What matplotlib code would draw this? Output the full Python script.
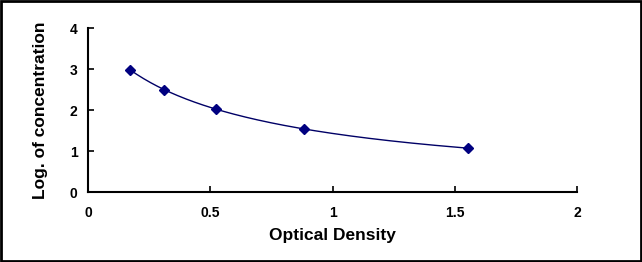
import numpy as np
import matplotlib.pyplot as plt

plt.rcParams['font.family'] = ['Liberation Sans', 'DejaVu Sans']
plt.rcParams['font.weight'] = 'bold'

# Standard curve points.
od = [0.172, 0.312, 0.522, 0.885, 1.553]
log_conc = [2.98, 2.50, 2.02, 1.54, 1.07]

x_ticks = [0, 0.5, 1, 1.5, 2]
x_labels = ['0', '0.5', '1', '1.5', '2']
y_ticks = [0, 1, 2, 3, 4]

fig = plt.figure(figsize=(6.42, 2.62), dpi=100)
ax = fig.add_axes([0.137, 0.267, 0.762, 0.626])

# Smooth trend line through the points (fit on log of OD).
coef = np.polyfit(np.log(od), log_conc, 3)
xs = np.linspace(min(od), max(od), 200)
ax.plot(xs, np.polyval(coef, np.log(xs)), color='#000066', lw=1)
ax.plot(od, log_conc, linestyle='none', marker='D', ms=5.5, color='#000080')

ax.set_xlim(0, 2)
ax.set_ylim(0, 4)
ax.set_xticks(x_ticks)
ax.set_xticklabels(x_labels, fontweight='bold')
ax.set_yticks(y_ticks)
ax.set_yticklabels([str(t) for t in y_ticks], fontweight='bold')
ax.tick_params(axis='x', direction='in', length=4, width=1.2, labelsize=10, pad=10)
ax.tick_params(axis='y', direction='in', length=4, width=1.2, labelsize=10, pad=7.5)
for s in ['top', 'right']:
    ax.spines[s].set_visible(False)
for s in ['left', 'bottom']:
    ax.spines[s].set_linewidth(1.5)

ax.set_xlabel('Optical Density', fontsize=12.5, fontweight='bold', labelpad=6)
ax.set_ylabel('Log. of concentration', fontsize=12.5, fontweight='bold', labelpad=16)

# Frame around the whole picture.
fig.patches.append(plt.Rectangle((0.002, 0.004), 0.996, 0.992, transform=fig.transFigure,
                                 fill=False, edgecolor='black', lw=2))

fig.savefig('out.png', dpi=100)
